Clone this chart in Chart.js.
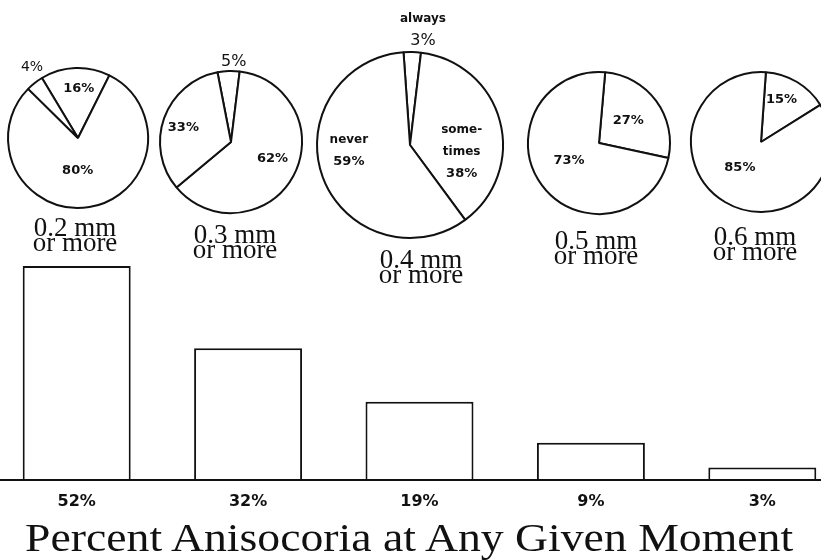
<!DOCTYPE html>
<html>
<head>
<meta charset="utf-8">
<script src="https://cdn.jsdelivr.net/npm/chart.js@4.4.1/dist/chart.umd.min.js"></script>
<style>
  html, body { margin: 0; padding: 0; background: #fff; overflow: hidden; }
  body { width: 821px; height: 560px; position: relative; }
  canvas { position: absolute; }
  .cap { position: absolute; width: 140px; text-align: center; font: 27px/15px "Liberation Serif", serif; color: #111; }
  #title { position: absolute; left: 25px; top: 517px; white-space: nowrap; font: 41px/41px "Liberation Serif", serif; color: #111;
    transform: scaleX(1.115); transform-origin: 0 0; }
</style>
</head>
<body>
<canvas id="bars" width="857" height="560" style="left:-9px;top:0"></canvas>
<div id="title"></div>
<script>
const thresholds = ['0.2 mm', '0.3 mm', '0.4 mm', '0.5 mm', '0.6 mm'];
const anisocoriaPct = [52, 32, 19, 9, 3];
const sliceNames = ['always', 'some-\ntimes', 'never'];
const alwaysPct = [16, 5, 3, 0, 0];
const sometimesPct = [80, 62, 38, 27, 15];
const neverPct = [4, 33, 59, 73, 85];
const barTitle = 'Percent Anisocoria at Any Given Moment';

// where each pie sits, and how its labels are placed: [radius factor, angle nudge, font size]
const pieLayout = [
  { cx: 78,  cy: 138, r: 70, rot: -31, capX: 75,  capY: 220, names: false, lbl: [[0.71, 3], [0.47, 10], [1.2, 5, 14]] },
  { cx: 231, cy: 142, r: 71, rot: -11, capX: 235, capY: 227, names: false, lbl: [[1.13, 4], [0.63, -7], [0.7, -3]] },
  { cx: 410, cy: 145, r: 93, rot: -4,  capX: 421, capY: 252, names: true,  lbl: [[1.25, 5], [0.56, 22], [0.66, 15]] },
  { cx: 599, cy: 143, r: 71, rot: 5,   capX: 596, capY: 233, names: false, lbl: [[0, 0], [0.52, -1], [0.49, 6]] },
  { cx: 761, cy: 142, r: 70, rot: 4,   capX: 755, capY: 229, names: false, lbl: [[0, 0], [0.67, -5], [0.47, 9]] }
];
const PAD = 46;

const sliceLabels = {
  id: 'sliceLabels',
  afterDatasetsDraw(chart, args, opts) {
    const ctx = chart.ctx;
    const vals = chart.data.datasets[0].data;
    ctx.save();
    ctx.fillStyle = '#111';
    ctx.textAlign = 'center';
    ctx.textBaseline = 'middle';
    chart.getDatasetMeta(0).data.forEach((arc, i) => {
      if (!vals[i]) return;
      const [f, nudge, size] = opts.style[i];
      const a = (arc.startAngle + arc.endAngle) / 2 + nudge * Math.PI / 180;
      const x = arc.x + Math.cos(a) * arc.outerRadius * f;
      const y = arc.y + Math.sin(a) * arc.outerRadius * f;
      const rows = (opts.names ? chart.data.labels[i].split('\n') : []).map(t => ({ t, font: 'bold 12px "DejaVu Sans"' }));
      rows.push({ t: vals[i] + '%', font: f > 1 ? `${size || 16}px "DejaVu Sans"` : 'bold 13px "DejaVu Sans"' });
      rows.forEach((row, k) => {
        ctx.font = row.font;
        ctx.fillText(row.t, x, y + (k - (rows.length - 1) / 2) * 22);
      });
    });
    ctx.restore();
  }
};

// --- PIES ---
pieLayout.forEach((L, i) => {
  const size = 2 * L.r + 2 + 2 * PAD;
  const cv = document.createElement('canvas');
  cv.width = size; cv.height = size;
  cv.style.left = (L.cx - size / 2) + 'px';
  cv.style.top = (L.cy - size / 2) + 'px';
  document.body.appendChild(cv);
  new Chart(cv, {
    type: 'pie',
    data: {
      labels: sliceNames,
      datasets: [{ data: [alwaysPct[i], sometimesPct[i], neverPct[i]], rotation: L.rot,
        backgroundColor: '#fff', borderColor: '#111', borderWidth: 2 }]
    },
    options: {
      responsive: false, animation: false,
      layout: { padding: PAD },
      plugins: { legend: { display: false }, tooltip: { enabled: false }, sliceLabels: { style: L.lbl, names: L.names } }
    },
    plugins: [sliceLabels]
  });
  const cap = document.createElement('div');
  cap.className = 'cap';
  cap.style.left = (L.capX - 70) + 'px';
  cap.style.top = L.capY + 'px';
  cap.innerHTML = thresholds[i] + '<br>or more';
  document.body.appendChild(cap);
});

// --- BARS ---
document.getElementById('title').textContent = barTitle;
new Chart(document.getElementById('bars'), {
  type: 'bar',
  data: {
    labels: anisocoriaPct.map(v => v + '%'),
    datasets: [{ data: anisocoriaPct, backgroundColor: '#fff', borderColor: '#111', borderWidth: 2,
      categoryPercentage: 1, barPercentage: 0.63 }]
  },
  options: {
    responsive: false, animation: false,
    layout: { padding: { top: 233, bottom: 37, left: 0, right: 0 } },
    scales: {
      x: {
        grid: { display: false, drawTicks: false },
        border: { display: true, color: '#111', width: 2, z: 1 },
        ticks: { padding: 12, color: '#111', font: { family: 'DejaVu Sans', weight: 'bold', size: 16 } }
      },
      y: { display: false, min: 0, max: 60 }
    },
    plugins: { legend: { display: false }, tooltip: { enabled: false } }
  }
});
</script>
</body>
</html>
